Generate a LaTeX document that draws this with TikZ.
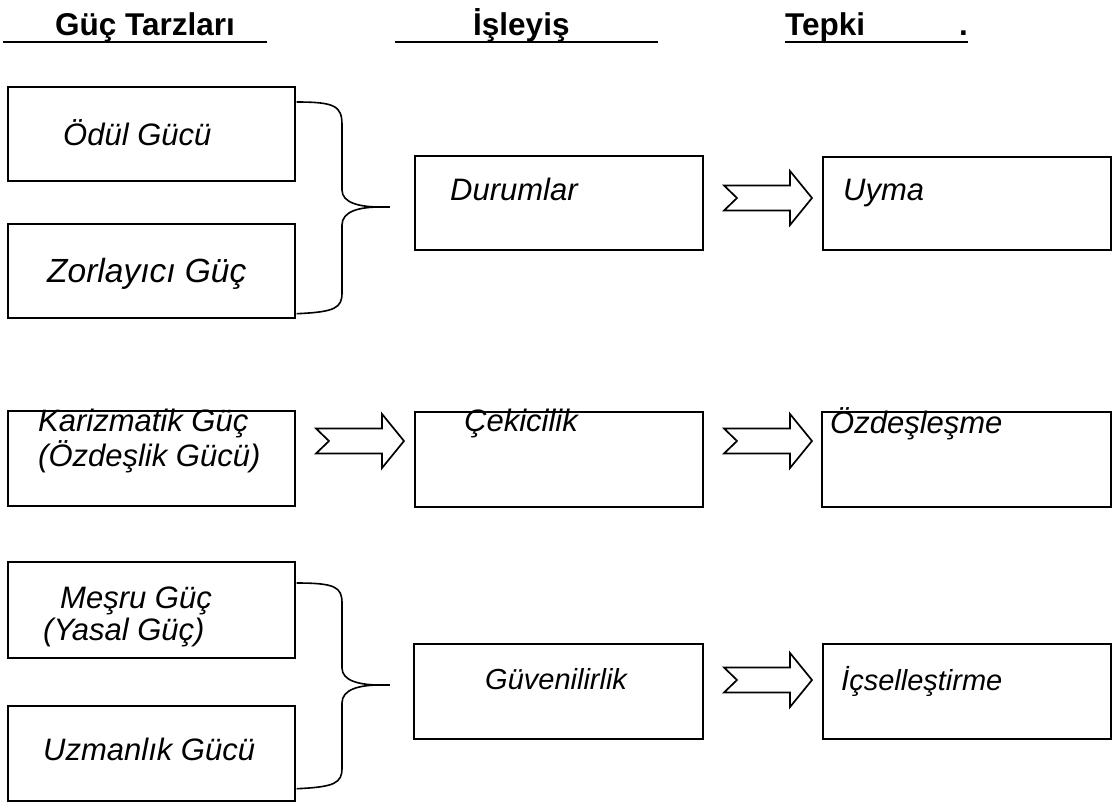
\documentclass[tikz,border=0pt]{standalone}
\usepackage{fontspec}
\setmainfont{Liberation Sans}
\usetikzlibrary{calc}
\begin{document}
\begin{tikzpicture}[x=1pt,y=-1pt,
  box/.style={draw, line width=1.7pt, rectangle, inner sep=0pt, anchor=north west},
  lbl/.style={anchor=base west, inner sep=0pt, font=\fontsize{31}{37}\selectfont\itshape},
  head/.style={anchor=base west, inner sep=0pt, font=\fontsize{31.5}{37}\selectfont\bfseries},
  rule/.style={line width=2.2pt},
  brace/.style={line width=1.6pt},
  pics/notched/.style={code={%
    \draw[line width=1.7pt, line join=miter, fill=white]
      (0,-12.5) -- (66,-12.5) -- (66,-27) -- (88,0) -- (66,27) -- (66,12.5) -- (0,12.5) -- (13,0) -- cycle;}}
]
% page frame
\fill[white] (0,0) rectangle (1116,801);
\useasboundingbox (0,0) rectangle (1116,801);

% column headings
\node[head] (h1) at (55,35) {Güç Tarzları};
\node[head] (h2) at (473,35) {İşleyiş};
\node[head] (h3) at (785,35) {Tepki};
\node[head] (h3dot) at (959,35) {.};
\draw[rule] (3,42) -- (267,42);
\draw[rule] (395,42) -- (658,42);
\draw[rule] (785,42) -- (968,42);

% first group: reward and coercive power
\node[box, minimum width=287pt, minimum height=94pt] (odul) at (7,86) {};
\node[box, minimum width=287pt, minimum height=94pt] (zorla) at (7,223) {};
\node[box, minimum width=288pt, minimum height=94pt] (durum) at (414,155) {};
\node[box, minimum width=288pt, minimum height=93pt] (uyma) at (822,156) {};
\node[lbl] (t-odul) at (63,145) {Ödül Gücü};
\node[lbl, font=\fontsize{33.5}{39}\selectfont\itshape] (t-zorla) at (47,282) {Zorlayıcı Güç};
\node[lbl] (t-durum) at (450,200) {Durumlar};
\node[lbl] (t-uyma) at (843,200) {Uyma};
\coordinate (tip1) at (380,207);
\draw[brace] ($(odul.north east)+(1,16)$) .. controls (335,102) and (342,106) .. (342,125)
  -- (342,190) .. controls (342,203) and (360,207) .. (tip1)
  .. controls (360,207) and (342,211) .. (342,225)
  -- (342,293) .. controls (342,308) and (335,312) .. ($(zorla.south east)+(1,-5)$);
\draw[brace] (tip1) -- ($(tip1)+(10,0)$);
\pic at (724,198) {notched};

% second group: referent power
\node[box, minimum width=287pt, minimum height=95pt] (kariz) at (7,410) {};
\node[box, minimum width=288pt, minimum height=95pt] (cekici) at (414,411) {};
\node[box, minimum width=289pt, minimum height=95pt] (ozdes) at (821,411) {};
\node[lbl] (t-kariz1) at (38,431) {Karizmatik Güç};
\node[lbl] (t-kariz2) at (38,466) {(Özdeşlik Gücü)};
\node[lbl] (t-cekici) at (464,431) {Çekicilik};
\node[lbl] (t-ozdes) at (830,433) {Özdeşleşme};
\pic at (316,441) {notched};
\pic at (724,441) {notched};

% third group: legitimate and expert power
\node[box, minimum width=287pt, minimum height=96pt] (mesru) at (7,561) {};
\node[box, minimum width=287pt, minimum height=95pt] (uzman) at (7,705) {};
\node[box, minimum width=289pt, minimum height=95pt] (guven) at (413,643) {};
\node[box, minimum width=288pt, minimum height=95pt] (icsel) at (822,643) {};
\node[lbl] (t-mesru1) at (60,608) {Meşru Güç};
\node[lbl] (t-mesru2) at (43,640) {(Yasal Güç)};
\node[lbl] (t-uzman) at (43,760) {Uzmanlık Gücü};
\node[lbl, font=\fontsize{29}{35}\selectfont\itshape] (t-guven) at (485,689) {Güvenilirlik};
\node[lbl, font=\fontsize{29}{35}\selectfont\itshape] (t-icsel) at (841,690) {İçselleştirme};
\coordinate (tip2) at (380,685);
\draw[brace] ($(mesru.north east)+(1,22)$) .. controls (335,583) and (342,587) .. (342,603)
  -- (342,668) .. controls (342,681) and (360,685) .. (tip2)
  .. controls (360,685) and (342,689) .. (342,703)
  -- (342,768) .. controls (342,783) and (335,787) .. ($(uzman.south east)+(1,-13)$);
\draw[brace] (tip2) -- ($(tip2)+(10,0)$);
\pic at (724,680) {notched};
\end{tikzpicture}
\end{document}
